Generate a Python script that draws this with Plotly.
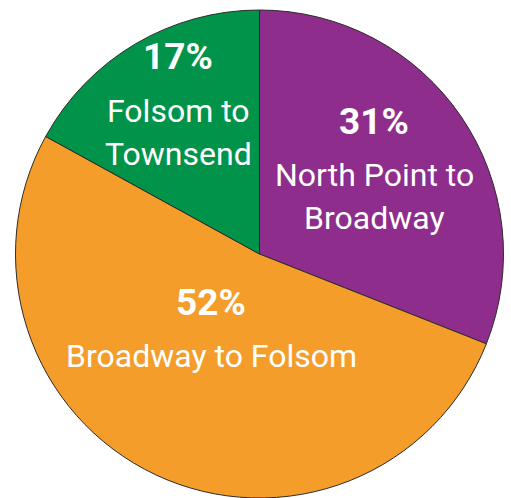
import plotly.graph_objects as go

segments = ["North Point to Broadway", "Broadway to Folsom", "Folsom to Townsend"]
shares = [31, 52, 17]
colors = ["#8E2D8C", "#F59D2A", "#02934A"]

W, H = 511, 498
FONT = "Roboto, Liberation Sans, sans-serif"

fig = go.Figure(go.Pie(
    labels=segments, values=shares, sort=False, direction="clockwise", rotation=0,
    marker=dict(colors=colors, line=dict(color="#2b2b2b", width=1)),
    textinfo="none", hoverinfo="label+percent", showlegend=False,
    domain=dict(x=[14.5 / W, 504.5 / W], y=[0, 488 / H]),
))

# label blocks: percent text, text lines, centre x (px), percent cap-centre y (px), first line cap-centre y (px)
label_pct = ["31%", "52%", "17%"]
label_lines = [["North Point to", "Broadway"], ["Broadway to Folsom"], ["Folsom to", "Townsend"]]
label_x = [374, 211, 178]
pct_y = [121, 302, 57]
line_y0 = [175, 356, 111]
LINE_GAP = 43

def px(x, y):
    return x / W, 1 - y / H

for pct, lines, x, py, ly in zip(label_pct, label_lines, label_x, pct_y, line_y0):
    ax, ay = px(x, py)
    fig.add_annotation(x=ax, y=ay, xref="paper", yref="paper", text=f"<b>{pct}</b>",
                       showarrow=False, xanchor="center", yanchor="middle",
                       font=dict(family=FONT, size=37, color="white"))
    for i, line in enumerate(lines):
        bx, by = px(x, ly + i * LINE_GAP)
        fig.add_annotation(x=bx, y=by, xref="paper", yref="paper", text=line,
                           showarrow=False, xanchor="center", yanchor="middle",
                           font=dict(family=FONT, size=32, color="white"))

fig.update_layout(width=W, height=H, margin=dict(l=0, r=0, t=0, b=0),
                  paper_bgcolor="white", plot_bgcolor="white")
fig.write_html("out.html", config={"displayModeBar": False},
               post_script="document.body.style.margin='0';")
